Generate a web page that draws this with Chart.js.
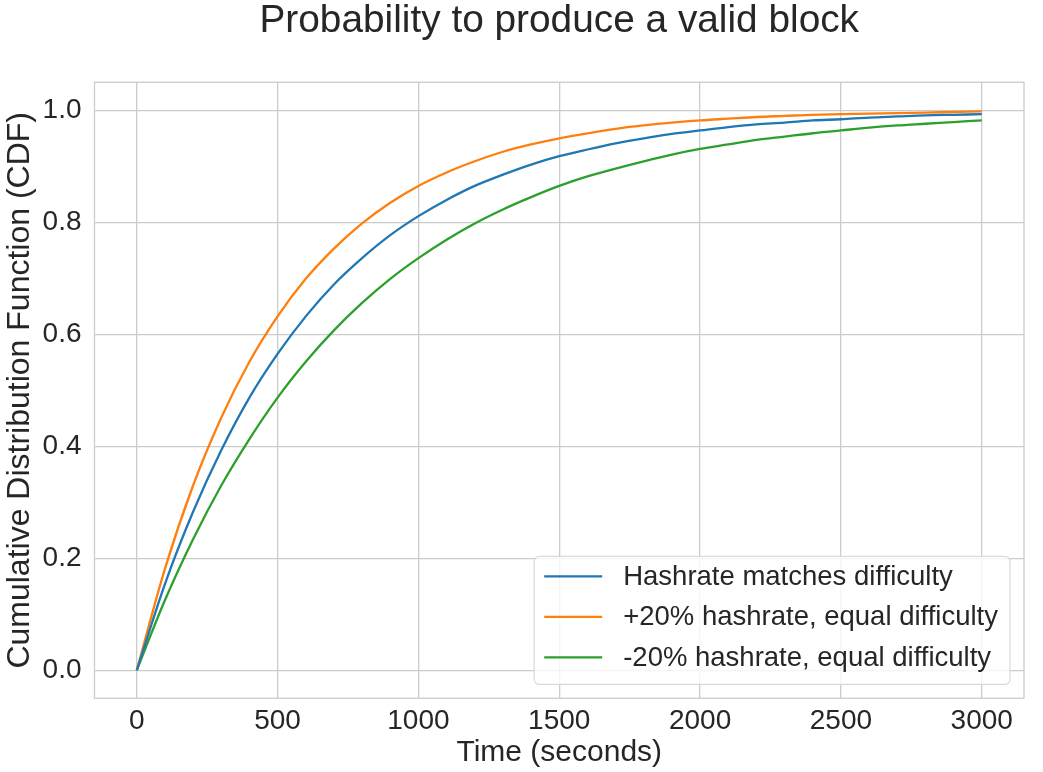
<!DOCTYPE html>
<html>
<head>
<meta charset="utf-8">
<script src="https://cdn.jsdelivr.net/npm/chart.js@4.4.1/dist/chart.umd.min.js"></script>
<style>
  html, body { margin: 0; padding: 0; background: #fff; }
  #wrap { width: 1043px; height: 772px; }
</style>
</head>
<body>
<div id="wrap"><canvas id="cdfChart" width="1043" height="772"></canvas></div>
<script>
// values, every 100 seconds
const timeSeconds = [0, 100, 200, 300, 400, 500, 600, 700, 800, 900, 1000,
  1100, 1200, 1300, 1400, 1500, 1600, 1700, 1800, 1900, 2000,
  2100, 2200, 2300, 2400, 2500, 2600, 2700, 2800, 2900, 3000];

const hashrateMatches = [0, 0.154, 0.283, 0.393, 0.487, 0.565, 0.632, 0.689, 0.736, 0.777, 0.811,
  0.840, 0.865, 0.885, 0.903, 0.918, 0.930, 0.941, 0.950, 0.958, 0.964,
  0.970, 0.975, 0.978, 0.982, 0.984, 0.987, 0.989, 0.991, 0.992, 0.993];

const hashratePlus20 = [0, 0.181, 0.330, 0.451, 0.551, 0.632, 0.699, 0.753, 0.798, 0.835, 0.865,
  0.889, 0.909, 0.926, 0.939, 0.950, 0.959, 0.967, 0.973, 0.978, 0.982,
  0.985, 0.988, 0.990, 0.992, 0.993, 0.994, 0.995, 0.996, 0.997, 0.998];

const hashrateMinus20 = [0, 0.125, 0.234, 0.330, 0.413, 0.487, 0.551, 0.607, 0.656, 0.699, 0.736,
  0.769, 0.798, 0.823, 0.845, 0.865, 0.882, 0.896, 0.909, 0.921, 0.931,
  0.939, 0.947, 0.953, 0.959, 0.964, 0.969, 0.973, 0.976, 0.979, 0.982];

const seriesLabels = ["Hashrate matches difficulty", "+20% hashrate, equal difficulty", "-20% hashrate, equal difficulty"];
const seriesColors = ["#1f77b4", "#ff7f0e", "#2ca02c"];

const xTickValues = [0, 500, 1000, 1500, 2000, 2500, 3000];
const yTickValues = [0, 0.2, 0.4, 0.6, 0.8, 1.0];

const FONT = "'Liberation Sans', Arial, sans-serif";
const TEXT = "#262626";
const GRID = "#cccccc";

Chart.defaults.font.family = FONT;
Chart.defaults.color = TEXT;

const toPoints = ys => timeSeconds.map((t, i) => ({ x: t, y: ys[i] }));

//axes frame on all four sides, like matplotlib spines
const framePlugin = {
  id: "frame",
  beforeDatasetsDraw(chart) {
    const { ctx, chartArea: a } = chart;
    ctx.save();
    ctx.strokeStyle = GRID;
    ctx.lineWidth = 1.3;
    ctx.strokeRect(a.left, a.top, a.right - a.left, a.bottom - a.top);
    ctx.restore();
  }
};

//legend box in the lower right of the plot
const boxLegendPlugin = {
  id: "boxLegend",
  afterDraw(chart) {
    const { ctx, chartArea: a } = chart;
    const fontSize = 27.5;
    const rowH = 40.5;
    const padL = 10, handle = 58, gap = 21, padR = 12;
    ctx.save();
    ctx.font = `${fontSize}px ${FONT}`;
    const textW = Math.max(...seriesLabels.map(l => ctx.measureText(l).width));
    const w = padL + handle + gap + textW + padR;
    const h = 128;
    const x = a.right - 14 - w;
    const y = a.bottom - 14 - h;

    ctx.beginPath();
    ctx.roundRect(x, y, w, h, 5);
    ctx.fillStyle = "rgba(255,255,255,0.8)";
    ctx.fill();
    ctx.strokeStyle = "#d9d9d9";
    ctx.lineWidth = 1.2;
    ctx.stroke();

    chart.data.datasets.forEach((ds, i) => {
      const cy = y + 20 + i * rowH;
      ctx.beginPath();
      ctx.moveTo(x + padL, cy);
      ctx.lineTo(x + padL + handle, cy);
      ctx.strokeStyle = ds.borderColor;
      ctx.lineWidth = 2.2;
      ctx.stroke();
      ctx.fillStyle = TEXT;
      ctx.textBaseline = "middle";
      ctx.textAlign = "left";
      ctx.fillText(ds.label, x + padL + handle + gap, cy + 1);
    });
    ctx.restore();
  }
};

const datasets = [hashrateMatches, hashratePlus20, hashrateMinus20].map((ys, i) => ({
  label: seriesLabels[i],
  data: toPoints(ys),
  borderColor: seriesColors[i],
  backgroundColor: seriesColors[i],
  borderWidth: 2.3,
  pointRadius: 0,
  cubicInterpolationMode: "monotone",
  fill: false
}));

new Chart(document.getElementById("cdfChart"), {
  type: "line",
  data: { datasets },
  options: {
    responsive: false,
    animation: false,
    devicePixelRatio: 1,
    layout: { padding: { left: 0, right: 19, top: 0, bottom: 0 } },
    plugins: {
      legend: { display: false },
      tooltip: { enabled: false },
      title: {
        display: true,
        text: "Probability to produce a valid block",
        fullSize: false,
        color: TEXT,
        font: { size: 38.8, weight: "normal", lineHeight: 1 },
        padding: { top: 2, bottom: 41.5 }
      }
    },
    scales: {
      x: {
        type: "linear",
        min: -150,
        max: 3150,
        afterBuildTicks: scale => { scale.ticks = xTickValues.map(v => ({ value: v })); },
        afterFit: scale => { scale.height = 73.7; },
        ticks: { font: { size: 28 }, color: TEXT, padding: 6, maxRotation: 0, callback: v => String(v) },
        grid: { color: GRID, lineWidth: 1.3, drawTicks: false },
        border: { display: false },
        title: { display: true, text: "Time (seconds)", color: TEXT, font: { size: 30, lineHeight: 1 }, padding: { top: 0, bottom: 4 } }
      },
      y: {
        min: -0.05,
        max: 1.05,
        afterBuildTicks: scale => { scale.ticks = yTickValues.map(v => ({ value: v })); },
        afterFit: scale => { scale.width = 94.5; },
        ticks: { font: { size: 28 }, color: TEXT, padding: 13, callback: v => v.toFixed(1) },
        grid: { color: GRID, lineWidth: 1.3, drawTicks: false },
        border: { display: false },
        title: { display: true, text: "Cumulative Distribution Function (CDF)", color: TEXT, font: { size: 32, lineHeight: 1 }, padding: { top: 4, bottom: 0 } }
      }
    }
  },
  plugins: [framePlugin, boxLegendPlugin]
});
</script>
</body>
</html>
